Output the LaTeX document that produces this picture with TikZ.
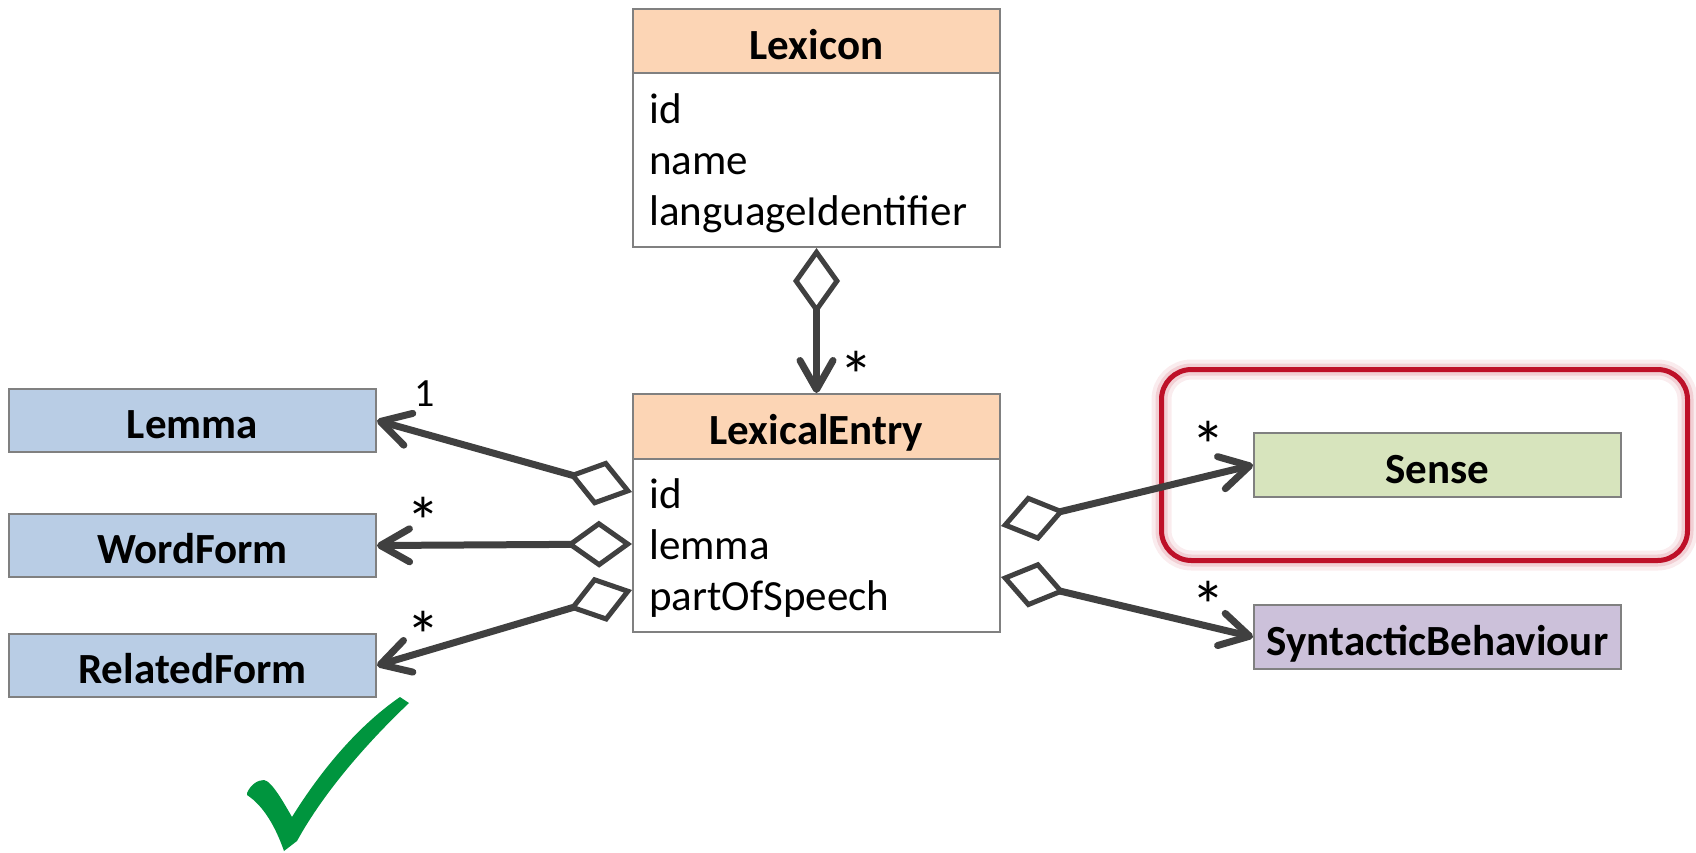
\documentclass[tikz,border=0pt]{standalone}
\usepackage{fontspec}
\setmainfont{Carlito}
\usetikzlibrary{arrows.meta}

\definecolor{headclr}{RGB}{252,213,181}
\definecolor{blueclr}{RGB}{185,205,229}
\definecolor{senseclr}{RGB}{215,228,189}
\definecolor{synclr}{RGB}{204,193,218}
\definecolor{edgeclr}{RGB}{128,128,128}
\definecolor{lineclr}{RGB}{64,64,64}
\definecolor{hiclr}{RGB}{190,16,40}
\definecolor{tickclr}{RGB}{0,149,62}

\tikzset{
  box/.style={draw=edgeclr, line width=2pt, minimum width=367pt, inner sep=0pt,
    font=\fontsize{43}{51}\selectfont\bfseries, text height=36pt, text depth=0pt},
  bodybox/.style={draw=edgeclr, line width=2pt, fill=white, minimum width=367pt, inner sep=0pt},
  attr/.style={font=\fontsize{43}{51}\selectfont, inner sep=0pt, anchor=base west},
  mult/.style={font=\fontsize{40}{48}\selectfont, inner sep=0pt},
  star/.style={font=\fontsize{68}{70}\selectfont, inner sep=0pt},
  agg/.style={draw=lineclr, line width=7pt,
    arrows={Diamond[open, length=66pt, width=47pt, line width=5pt]-Straight Barb[length=29pt, width=33pt, round]}},
}

\begin{document}
\begin{tikzpicture}[x=1pt, y=-1pt]
\useasboundingbox (0,0) rectangle (1696,852);

% Lexicon class
\node[box, fill=headclr, minimum height=64pt] (lexh) at (816.5,41) {Lexicon};
\node[bodybox, minimum height=174pt] (lexb) at (816.5,160) {};
\node[attr] (lexid) at (649,123) {id};
\node[attr] (lexname) at (649,174) {name};
\node[attr] (lexlang) at (649,225) {languageIdentifier};

% LexicalEntry class
\node[box, fill=headclr, minimum height=65pt] (leh) at (816.5,426.5) {LexicalEntry};
\node[bodybox, minimum height=173pt] (leb) at (816.5,545.5) {};
\node[attr] (leid) at (649,508) {id};
\node[attr] (lelemma) at (649,559) {lemma};
\node[attr] (lepos) at (649,610) {partOfSpeech};

% associated classes
\node[box, fill=blueclr, minimum height=63pt] (lemma) at (192.5,420.5) {Lemma};
\node[box, fill=blueclr, minimum height=63pt] (wform) at (192.5,545.5) {WordForm};
\node[box, fill=blueclr, minimum height=63pt] (rform) at (192.5,665.5) {RelatedForm};
\node[box, fill=senseclr, minimum height=64pt] (sense) at (1437.5,465) {Sense};
\node[box, fill=synclr, minimum height=64pt] (synb) at (1437.5,637) {SyntacticBehaviour};

% highlight frame around Sense
\draw[hiclr!8, line width=20pt, rounded corners=30pt] (1161.5,369.5) rectangle (1687.5,560.5);
\draw[hiclr!20, line width=12pt, rounded corners=30pt] (1161.5,369.5) rectangle (1687.5,560.5);
\draw[hiclr, line width=5pt, rounded corners=30pt] (1161.5,369.5) rectangle (1687.5,560.5);

% aggregations
\draw[agg] (lexb.south) -- (leh.north);
\draw[agg] ([yshift=-34pt]leb.north west) -- (lemma.east);
\draw[agg] ([yshift=-86pt]leb.north west) -- (wform.east);
\draw[agg] ([yshift=-132pt]leb.north west) -- (rform.east);
\draw[agg] ([yshift=-68pt]leb.north east) -- (sense.west);
\draw[agg] ([yshift=-119pt]leb.north east) -- (synb.west);

% multiplicities
\node[star] (m1) at (856,375) {*};
\node[mult] (m2) at (425,394) {1};
\node[star] (m3) at (423,521) {*};
\node[star] (m4) at (423,635) {*};
\node[star] (m5) at (1208,445) {*};
\node[star] (m6) at (1208,605) {*};

% check mark
\fill[tickclr] (247,793) .. controls (251,784) and (258,780) .. (264,780)
  .. controls (272,781) and (285,805) .. (292,817)
  .. controls (318,775) and (355,728) .. (400,697)
  -- (409,703)
  .. controls (370,740) and (325,790) .. (297,841)
  -- (284,851)
  .. controls (276,828) and (264,806) .. (247,795) -- cycle;
\end{tikzpicture}
\end{document}
